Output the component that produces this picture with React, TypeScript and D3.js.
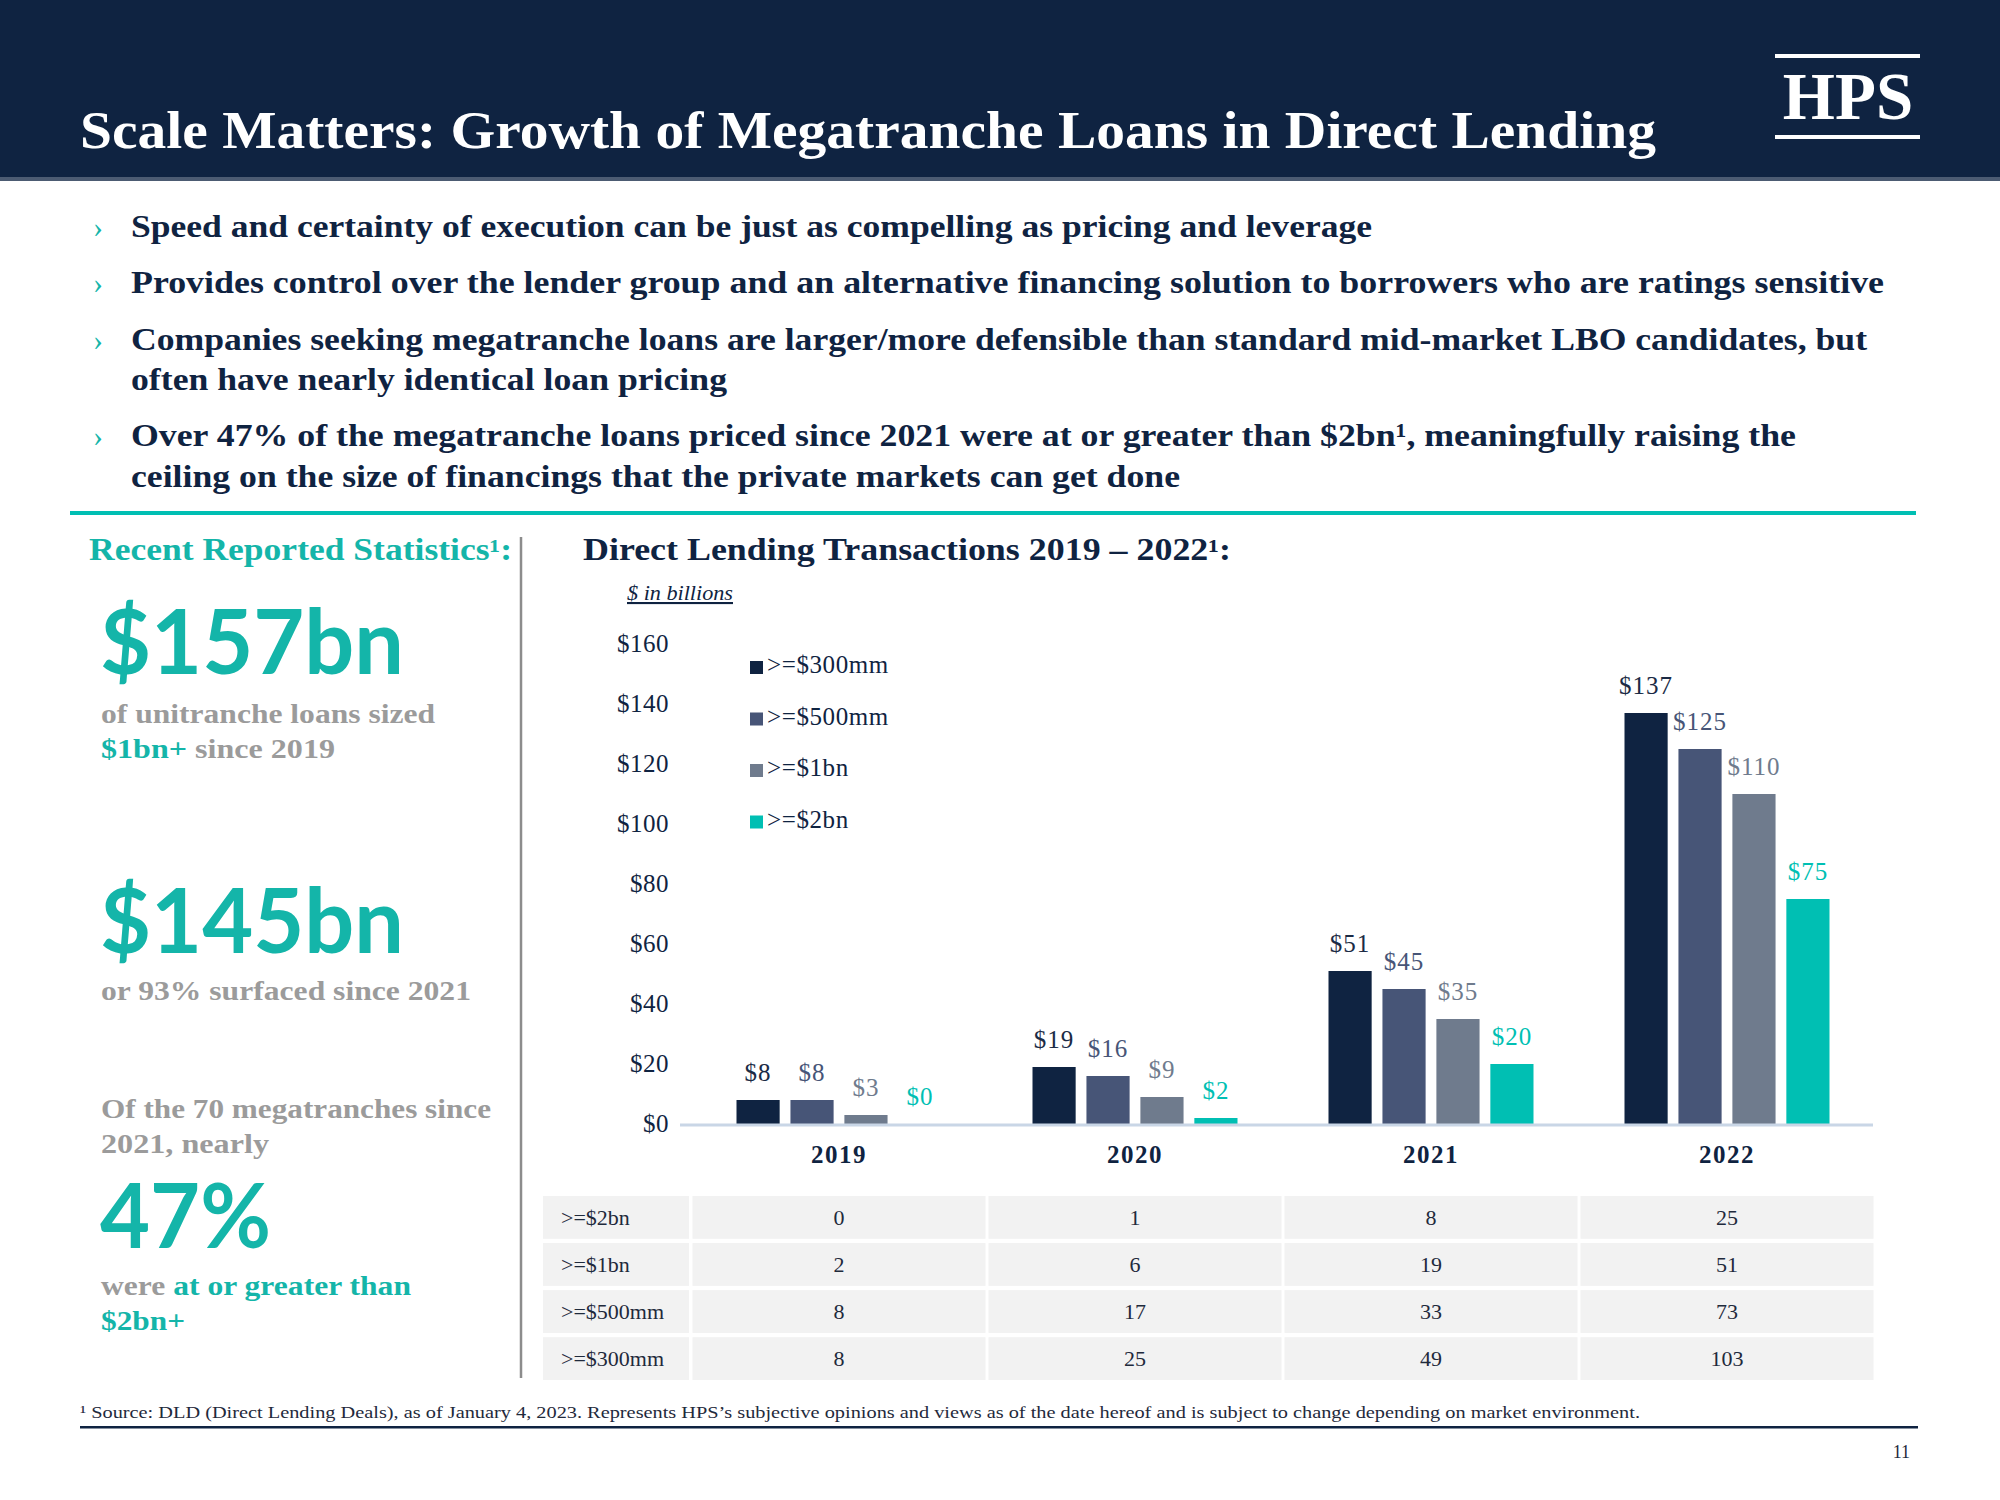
import { useEffect } from "react";
import * as d3 from "d3";

// chart data
const years = ["2019", "2020", "2021", "2022"];
const seriesNames = [">=$300mm", ">=$500mm", ">=$1bn", ">=$2bn"];
const over300mm = [8, 19, 51, 137];
const over500mm = [8, 16, 45, 125];
const over1bn = [3, 9, 35, 110];
const over2bn = [0, 2, 20, 75];
const yTicks = [0, 20, 40, 60, 80, 100, 120, 140, 160];

// deal counts table
const tableRows = [">=$2bn", ">=$1bn", ">=$500mm", ">=$300mm"];
const count2bn = [0, 1, 8, 25];
const count1bn = [2, 6, 19, 51];
const count500mm = [8, 17, 33, 73];
const count300mm = [8, 25, 49, 103];

// bullet lines: [text, baseline, width]
const bulletLines: [string, number, number][][] = [
  [["Speed and certainty of execution can be just as compelling as pricing and leverage", 237, 1241]],
  [["Provides control over the lender group and an alternative financing solution to borrowers who are ratings sensitive", 293, 1753]],
  [
    ["Companies seeking megatranche loans are larger/more defensible than standard mid-market LBO candidates, but", 350, 1736],
    ["often have nearly identical loan pricing", 390, 596],
  ],
  [
    ["Over 47% of the megatranche loans priced since 2021 were at or greater than $2bn¹, meaningfully raising the", 446, 1665],
    ["ceiling on the size of financings that the private markets can get done", 487, 1049],
  ],
];

const NAVY = "#0f2341";
const SLATE = "#475577";
const GREY = "#6f7b8d";
const TEAL = "#00bfb3";
const TEAL_TEXT = "#14b5a9";
const MUTED = "#9b9b9b";
const SERIF = "'Liberation Serif', 'Times New Roman', serif";
const SANS = "Lato, 'Open Sans', sans-serif";

const fit = (w: number) => ({ textLength: w, lengthAdjust: "spacingAndGlyphs" as const });

export default function App() {
  useEffect(() => {
    document.body.style.margin = "0";
  }, []);

  const series = [over300mm, over500mm, over1bn, over2bn];
  const colors = [NAVY, SLATE, GREY, TEAL];
  const counts = [count2bn, count1bn, count500mm, count300mm];

  const x = d3.scaleBand().domain(years).range([691, 1875]);
  const xs = d3.scaleBand().domain(seriesNames).range([0, 205]).paddingInner(0.2);
  const groupOffset = (x.bandwidth() - 205) / 2;
  const y = d3.scaleLinear().domain([0, 160]).range([1124, 644]);

  const legendY = d3.scaleBand().domain(seriesNames).range([655, 861]);
  const rowY = d3.scaleBand().domain(tableRows).range([1196, 1380]).paddingInner(0.09);

  return (
    <svg
      width={2000}
      height={1500}
      style={{ position: "absolute", left: 0, top: 0, background: "#fff" }}
    >
      {/* header */}
      <rect x={0} y={0} width={2000} height={177} fill={NAVY} />
      <rect x={0} y={177} width={2000} height={4} fill="#4c5b72" />
      <text x={80} y={148} fill="#fff" fontFamily={SERIF} fontWeight="bold" fontSize={53} {...fit(1576)}>
        Scale Matters: Growth of Megatranche Loans in Direct Lending
      </text>
      <rect x={1775} y={54} width={145} height={4} fill="#fff" />
      <rect x={1775} y={135} width={145} height={4} fill="#fff" />
      <text x={1848} y={119} fill="#fff" fontFamily={SERIF} fontWeight="bold" fontSize={67} textAnchor="middle">
        HPS
      </text>

      {/* bullets */}
      {bulletLines.map((lines, i) => (
        <g key={i}>
          <text x={93} y={lines[0][1]} fill={TEAL_TEXT} fontFamily={SERIF} fontSize={30}>
            ›
          </text>
          {lines.map(([t, by, w], j) => (
            <text
              key={j}
              x={131}
              y={by}
              fill={NAVY}
              fontFamily={SERIF}
              fontWeight="bold"
              fontSize={32}
              {...fit(w)}
            >
              {t}
            </text>
          ))}
        </g>
      ))}
      <rect x={70} y={511} width={1846} height={4} fill={TEAL} />

      {/* left statistics panel */}
      <text x={89} y={560} fill={TEAL_TEXT} fontFamily={SERIF} fontWeight="bold" fontSize={31} {...fit(423)}>
        Recent Reported Statistics¹:
      </text>
      <line x1={521} x2={521} y1={537} y2={1378} stroke="#8c8c8c" strokeWidth={2.5} />
      <text x={100} y={674} fill={TEAL_TEXT} fontFamily={SANS} fontWeight="bold" fontSize={90} {...fit(304)}>
        $157bn
      </text>
      <text x={101} y={723} fill={MUTED} fontFamily={SERIF} fontWeight="bold" fontSize={28} {...fit(334)}>
        of unitranche loans sized
      </text>
      <text x={101} y={758} fontFamily={SERIF} fontWeight="bold" fontSize={28} {...fit(234)}>
        <tspan fill={TEAL_TEXT}>$1bn+</tspan>
        <tspan fill={MUTED}> since 2019</tspan>
      </text>
      <text x={100} y={953} fill={TEAL_TEXT} fontFamily={SANS} fontWeight="bold" fontSize={90} {...fit(304)}>
        $145bn
      </text>
      <text x={101} y={1000} fill={MUTED} fontFamily={SERIF} fontWeight="bold" fontSize={28} {...fit(370)}>
        or 93% surfaced since 2021
      </text>
      <text x={101} y={1118} fill={MUTED} fontFamily={SERIF} fontWeight="bold" fontSize={28} {...fit(390)}>
        Of the 70 megatranches since
      </text>
      <text x={101} y={1153} fill={MUTED} fontFamily={SERIF} fontWeight="bold" fontSize={28} {...fit(168)}>
        2021, nearly
      </text>
      <text x={100} y={1248} fill={TEAL_TEXT} fontFamily={SANS} fontWeight="bold" fontSize={90} {...fit(171)}>
        47%
      </text>
      <text x={101} y={1295} fontFamily={SERIF} fontWeight="bold" fontSize={28} {...fit(310)}>
        <tspan fill={MUTED}>were </tspan>
        <tspan fill={TEAL_TEXT}>at or greater than</tspan>
      </text>
      <text x={101} y={1330} fill={TEAL_TEXT} fontFamily={SERIF} fontWeight="bold" fontSize={28} {...fit(84)}>
        $2bn+
      </text>

      {/* chart titles */}
      <text x={583} y={560} fill={NAVY} fontFamily={SERIF} fontWeight="bold" fontSize={31} {...fit(648)}>
        Direct Lending Transactions 2019 – 2022¹:
      </text>
      <text
        x={627}
        y={600}
        fill={NAVY}
        fontFamily={SERIF}
        fontStyle="italic"
        fontSize={21}
        textDecoration="underline"
        {...fit(106)}
      >
        $ in billions
      </text>

      {/* y axis labels */}
      {yTicks.map((t) => (
        <text
          key={t}
          x={669}
          y={y(t)}
          dy="0.33em"
          textAnchor="end"
          fill={NAVY}
          fontFamily={SERIF}
          fontSize={25}
          letterSpacing={0.5}
        >
          {`$${t}`}
        </text>
      ))}

      {/* bars */}
      {series.map((vals, si) =>
        vals.map((v, yi) => {
          const bx = x(years[yi])! + groupOffset + xs(seriesNames[si])!;
          return (
            <g key={`${si}-${yi}`}>
              <rect x={bx} y={y(v)} width={xs.bandwidth()} height={y(0) - y(v)} fill={colors[si]} />
              <text
                x={bx + xs.bandwidth() / 2}
                y={y(v) - 19}
                textAnchor="middle"
                fill={colors[si] === NAVY ? "#1b2b45" : colors[si]}
                fontFamily={SERIF}
                fontSize={25}
                letterSpacing={1}
              >
                {`$${v}`}
              </text>
            </g>
          );
        })
      )}
      <line x1={680} x2={1873} y1={y(0) + 1} y2={y(0) + 1} stroke="#c9d6e6" strokeWidth={3} />

      {/* x axis labels */}
      {years.map((yr) => (
        <text
          key={yr}
          x={x(yr)! + x.bandwidth() / 2}
          y={1163}
          textAnchor="middle"
          fill={NAVY}
          fontFamily={SERIF}
          fontWeight="bold"
          fontSize={25}
          letterSpacing={1.5}
        >
          {yr}
        </text>
      ))}

      {/* legend */}
      {seriesNames.map((s, i) => (
        <g key={s} transform={`translate(750,${legendY(s)!})`}>
          <rect x={0} y={6} width={13} height={13} fill={colors[i]} />
          <text x={17} y={18} fill={NAVY} fontFamily={SERIF} fontSize={25} letterSpacing={0.6}>
            {s}
          </text>
        </g>
      ))}

      {/* table */}
      {tableRows.map((r, ri) => (
        <g key={r}>
          <rect x={543} y={rowY(r)!} width={146} height={rowY.bandwidth()} fill="#f2f2f2" />
          <text
            x={561}
            y={rowY(r)! + rowY.bandwidth() / 2}
            dy="0.33em"
            fill="#1f2a3c"
            fontFamily={SERIF}
            fontSize={22}
          >
            {r}
          </text>
          {years.map((yr, yi) => (
            <g key={yr}>
              <rect
                x={x(yr)! + 1.5}
                y={rowY(r)!}
                width={x.bandwidth() - 3}
                height={rowY.bandwidth()}
                fill="#f2f2f2"
              />
              <text
                x={x(yr)! + x.bandwidth() / 2}
                y={rowY(r)! + rowY.bandwidth() / 2}
                dy="0.33em"
                textAnchor="middle"
                fill="#1f2a3c"
                fontFamily={SERIF}
                fontSize={22}
              >
                {counts[ri][yi]}
              </text>
            </g>
          ))}
        </g>
      ))}

      {/* footnote */}
      <text x={80} y={1418} fill="#1f2a3c" fontFamily={SERIF} fontSize={17} {...fit(1560)}>
        ¹ Source: DLD (Direct Lending Deals), as of January 4, 2023. Represents HPS’s subjective opinions and views as of the date hereof and is subject to change depending on market environment.
      </text>
      <rect x={80} y={1426} width={1838} height={2.5} fill={NAVY} />
      <text x={1910} y={1458} textAnchor="end" fill="#1f2a3c" fontFamily={SERIF} fontSize={18}>
        11
      </text>
    </svg>
  );
}
